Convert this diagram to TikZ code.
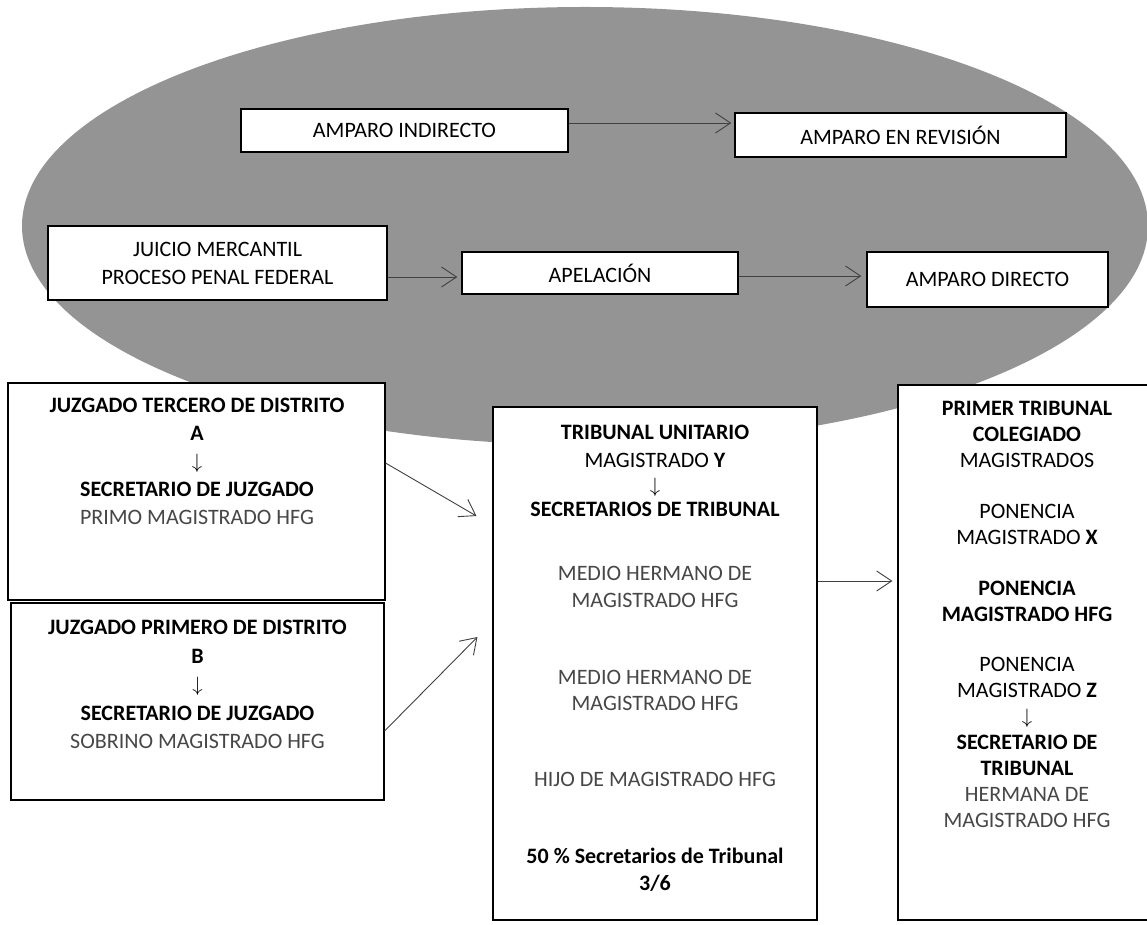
\documentclass[tikz,border=0pt]{standalone}
\usepackage{fontspec}
\setmainfont{Carlito}
\usetikzlibrary{arrows.meta,calc}
\tikzset{
  topbox/.style={draw=black, line width=1.5pt, fill=white, inner sep=0pt, align=center, font=\fontsize{22}{28}\selectfont},
  lowbox/.style={draw=black, line width=1.1pt, fill=white, inner sep=0pt},
  txt/.style={inner sep=0pt, anchor=north, align=center},
  arr/.style={draw=black!75, line width=0.9pt, -{Straight Barb[length=15pt,width=20pt,line width=0.9pt]}}
}
\newcommand{\lt}[1]{{\color{black!72}#1}}
\newcommand{\da}{$\downarrow$}
\begin{document}
\begin{tikzpicture}[x=1pt,y=1pt]
\useasboundingbox (0,0) rectangle (1147,924);
% gray ellipse
\fill[black!42] (585,698) ellipse [x radius=563, y radius=219];
% top boxes
\node[topbox, minimum width=327pt, minimum height=43pt] (ai) at (404.5,793.5) {AMPARO INDIRECTO};
\node[topbox, minimum width=331pt, minimum height=44pt] (ar) at (900.5,789) {AMPARO EN REVISIÓN};
\node[topbox, minimum width=339pt, minimum height=74pt] (jm) at (217.5,661) {JUICIO MERCANTIL\\PROCESO PENAL FEDERAL};
\node[topbox, minimum width=276pt, minimum height=42pt] (ap) at (600,651) {APELACIÓN};
\node[topbox, minimum width=241pt, minimum height=55pt] (ad) at (987.5,644.5) {AMPARO DIRECTO};
\draw[arr] ([yshift=7.5pt]ai.east) -- ([xshift=-3pt,yshift=12pt]ar.west);
\draw[arr] ([yshift=-14pt]jm.east) -- ([xshift=-4pt,yshift=-4pt]ap.west);
\draw[arr] ([yshift=-3pt]ap.east) -- ([xshift=-5pt,yshift=3.5pt]ad.west);
% lower boxes
\node[lowbox, minimum width=377pt, minimum height=217pt] (bA) at (196.5,432.5) {};
\node[lowbox, minimum width=373pt, minimum height=197pt] (bB) at (197.5,222.5) {};
\node[lowbox, minimum width=324pt, minimum height=513pt] (bM) at (655,260.5) {};
\node[lowbox, minimum width=262pt, minimum height=535pt] (bR) at (1029,271.5) {};
% texts
\node[txt, font=\fontsize{22}{28}\selectfont] (tA) at (197,526) {\textbf{JUZGADO TERCERO DE DISTRITO}\\\textbf{A}\\\da\\\textbf{SECRETARIO DE JUZGADO}\\\lt{PRIMO MAGISTRADO HFG}};
\node[txt, font=\fontsize{22}{28.5}\selectfont] (tB) at (197.5,304) {\textbf{JUZGADO PRIMERO DE DISTRITO}\\\textbf{B}\\\da\\\textbf{SECRETARIO DE JUZGADO}\\\lt{SOBRINO MAGISTRADO HFG}};
\node[txt, font=\fontsize{22}{26.5}\selectfont] (tM) at (655,499) {\textbf{TRIBUNAL UNITARIO}\\[1.5pt]MAGISTRADO \textbf{Y}\\[-2pt]\da\\[-2pt]\textbf{SECRETARIOS DE TRIBUNAL}\\[37.5pt]\lt{MEDIO HERMANO DE}\\\lt{MAGISTRADO HFG}\\[50.5pt]\lt{MEDIO HERMANO DE}\\\lt{MAGISTRADO HFG}\\[49.5pt]\lt{HIJO DE MAGISTRADO HFG}\\[50.5pt]\textbf{50 \% Secretarios de Tribunal}\\\textbf{3/6}};
\node[txt, font=\fontsize{22}{26}\selectfont] (tR) at (1027,523) {\textbf{PRIMER TRIBUNAL}\\\textbf{COLEGIADO}\\MAGISTRADOS\\[25pt]PONENCIA\\MAGISTRADO \textbf{X}\\[25pt]\textbf{PONENCIA}\\\textbf{MAGISTRADO HFG}\\[24pt]PONENCIA\\MAGISTRADO \textbf{Z}\\\da\\\textbf{SECRETARIO DE}\\\textbf{TRIBUNAL}\\\lt{HERMANA DE}\\\lt{MAGISTRADO HFG}};
% lower connectors
\draw[arr] ([yshift=28.5pt]bA.east) -- ([xshift=-16pt,yshift=147.5pt]bM.west);
\draw[arr] ([yshift=-29.5pt]bB.east) -- ([xshift=-15pt,yshift=26.5pt]bM.west);
\draw[arr] ([yshift=82.5pt]bM.east) -- ([xshift=-5pt,yshift=71.5pt]bR.west);
\end{tikzpicture}
\end{document}
